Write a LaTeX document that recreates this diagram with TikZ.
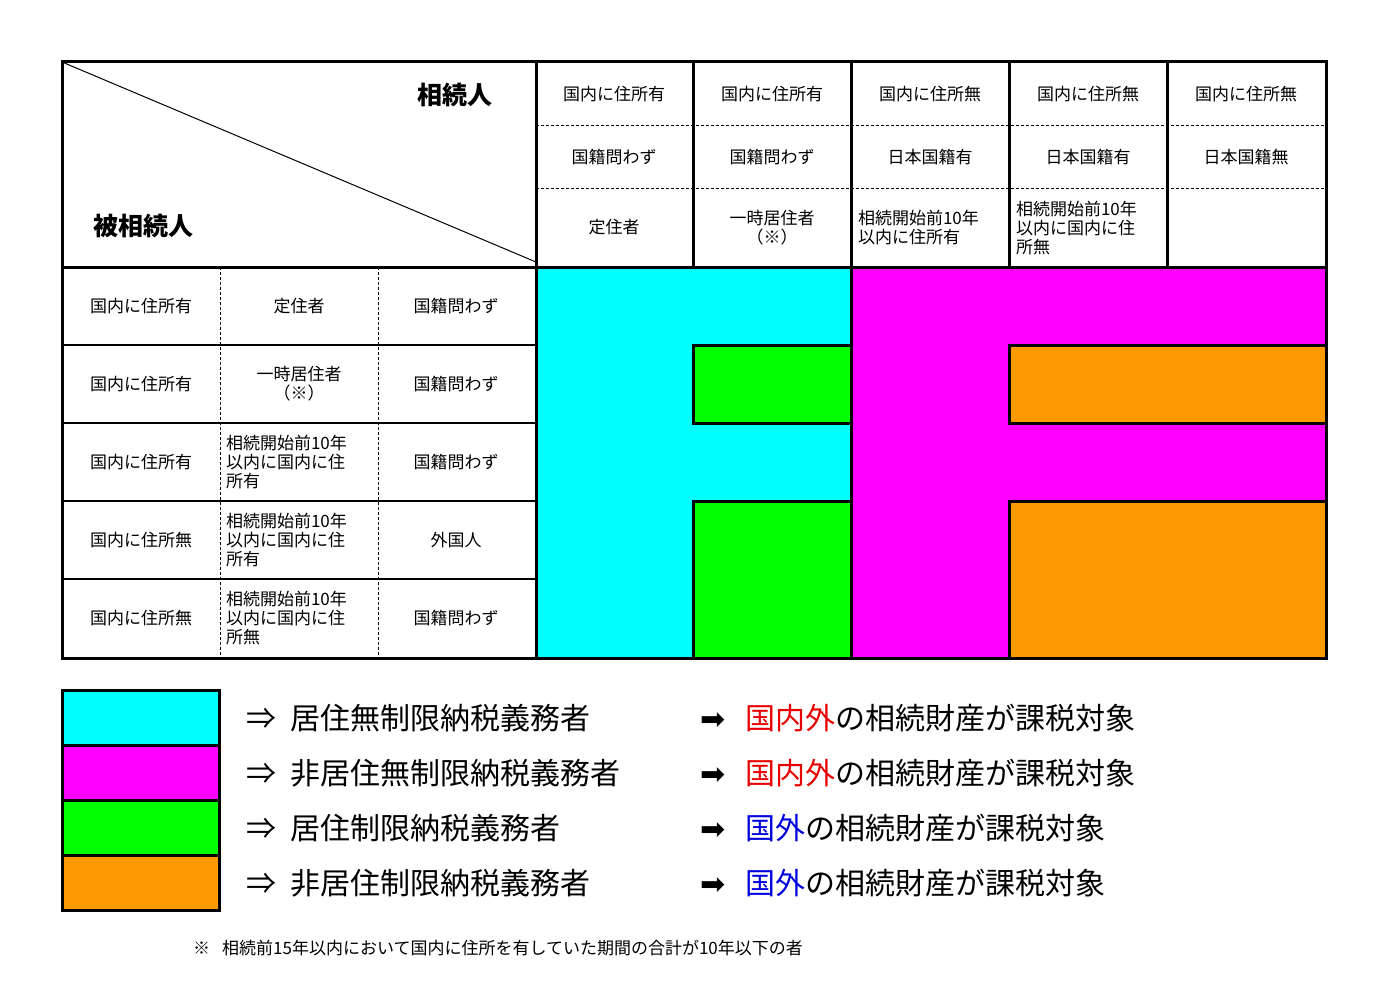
\documentclass[tikz,border=0pt]{standalone}
\usepackage{fontspec}
\setmainfont{Noto Sans CJK JP}
\definecolor{cy}{RGB}{0,255,255}
\definecolor{mg}{RGB}{255,0,255}
\definecolor{gr}{RGB}{0,255,0}
\definecolor{og}{RGB}{255,153,0}
\definecolor{rd}{RGB}{230,0,0}
\definecolor{bl}{RGB}{0,0,220}
\begin{document}
\begin{tikzpicture}[x=1pt,y=-1pt,
  cell/.style={font=\fontsize{17}{19}\selectfont, inner sep=0pt, align=center},
  cellL/.style={font=\fontsize{17}{19}\selectfont, inner sep=0pt, align=left, text width=146pt},
  leg/.style={font=\fontsize{30}{34}\selectfont, anchor=west, inner sep=0pt},
  thk/.style={line width=3pt},
  mid/.style={line width=2pt},
  dsh/.style={line width=1pt, dash pattern=on 3pt off 2pt}]
\useasboundingbox (0,0) rectangle (1377,990);
% color regions
\fill[cy] (536,267) rectangle (851,658);
\fill[mg] (851,267) rectangle (1326,658);
\fill[gr] (693,345) rectangle (851,423);
\fill[gr] (693,501) rectangle (851,658);
\fill[og] (1009,345) rectangle (1326,423);
\fill[og] (1009,501) rectangle (1326,658);
\draw[thk] (693,345) rectangle (851,423);
\draw[thk] (693,501) rectangle (851,658);
\draw[thk] (1009,345) rectangle (1326,423);
\draw[thk] (1009,501) rectangle (1326,658);
\draw[thk] (851,267) -- (851,658);
% header
\draw[dsh] (536,125) -- (1326,125);
\draw[dsh] (536,188) -- (1326,188);
\foreach \x in {693,851,1009,1167} \draw[thk] (\x,62) -- (\x,267);
\draw[line width=1pt] (62,62) -- (536,262);
\node[font=\bfseries\fontsize{25}{28}\selectfont] (h1) at (455,95) {相続人};
\node[font=\bfseries\fontsize{25}{28}\selectfont] (h2) at (143,226) {被相続人};
% header texts
\foreach \x/\t in {614/国内に住所有,772/国内に住所有,930/国内に住所無,1088/国内に住所無,1246/国内に住所無}
  \node[cell] at (\x,94) {\t};
\foreach \x/\t in {614/国籍問わず,772/国籍問わず,930/日本国籍有,1088/日本国籍有,1246/日本国籍無}
  \node[cell] at (\x,157) {\t};
\node[cell] (c1) at (614,227) {定住者};
\node[cell] (c2) at (772,228) {一時居住者\\（※）};
\node[cellL, text width=148pt] (c3) at (932,228) {相続開始前10年\\以内に住所有};
\node[cellL, text width=148pt] (c4) at (1090,228) {相続開始前10年\\以内に国内に住\\所無};
% body left
\foreach \y in {345,423,501,579} \draw[mid] (62,\y) -- (536,\y);
\draw[dsh] (220,267) -- (220,658);
\draw[dsh] (378,267) -- (378,658);
\foreach \y/\a/\c in {306/国内に住所有/国籍問わず,384/国内に住所有/国籍問わず,462/国内に住所有/国籍問わず,540/国内に住所無/外国人,618/国内に住所無/国籍問わず}{
  \node[cell] at (141,\y) {\a};
  \node[cell] at (456,\y) {\c};}
\node[cell] (b1) at (299,306) {定住者};
\node[cell] (b2) at (299,384) {一時居住者\\（※）};
\node[cellL] (b3) at (299,462) {相続開始前10年\\以内に国内に住\\所有};
\node[cellL] (b4) at (299,540) {相続開始前10年\\以内に国内に住\\所有};
\node[cellL] (b5) at (299,618) {相続開始前10年\\以内に国内に住\\所無};
% frame
\draw[thk] (62,62) rectangle (1326,658);
\draw[thk] (62,267) -- (1326,267);
\draw[thk] (536,62) -- (536,658);
% legend
\foreach \y/\c in {690/cy,745/mg,800/gr,855/og}
  \draw[thk, fill=\c] (62,\y) rectangle (219,\y+55);
\node[leg] (l1) at (246,718) {⇒\hspace{14pt}居住無制限納税義務者};
\node[leg] (l2) at (246,773) {⇒\hspace{14pt}非居住無制限納税義務者};
\node[leg] (l3) at (246,828) {⇒\hspace{14pt}居住制限納税義務者};
\node[leg] (l4) at (246,883) {⇒\hspace{14pt}非居住制限納税義務者};
\foreach \y/\c/\t in {718/rd/国内外,773/rd/国内外,828/bl/国外,883/bl/国外}
  \node[leg] at (700,\y) {{\fontspec{DejaVu Sans}➡}\hspace{20pt}\textcolor{\c}{\t}の相続財産が課税対象};
\node[font=\fontsize{17}{19}\selectfont, anchor=west, inner sep=0pt] (fn) at (193,948) {※\hspace{12pt}相続前15年以内において国内に住所を有していた期間の合計が10年以下の者};
\end{tikzpicture}
\end{document}
